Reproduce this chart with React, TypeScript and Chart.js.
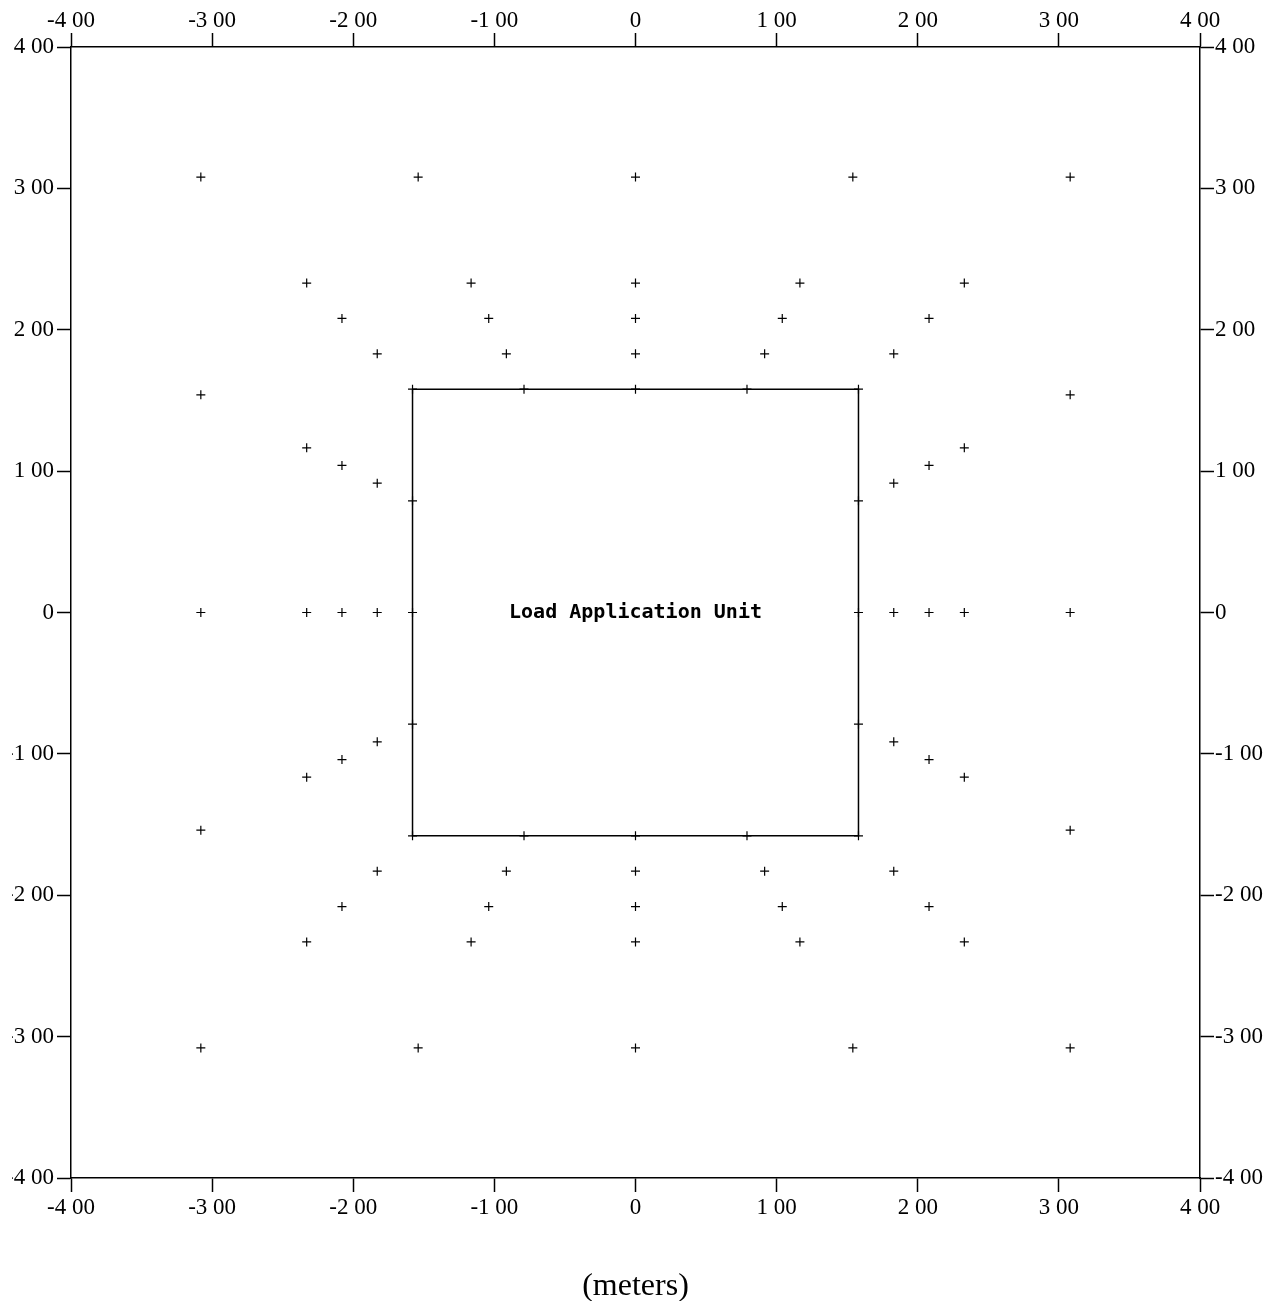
import React, { useEffect, useRef } from "react";
import { Chart, registerables } from "chart.js";

Chart.register(...registerables);

// Axis ticks and labels
const xTickValues = [-4, -3, -2, -1, 0, 1, 2, 3, 4];
const xTickLabels = ["-4 00", "-3 00", "-2 00", "-1 00", "0", "1 00", "2 00", "3 00", "4 00"];
const yTickValues = [-4, -3, -2, -1, 0, 1, 2, 3, 4];
const yTickLabels = ["-4 00", "-3 00", "-2 00", "-1 00", "0", "1 00", "2 00", "3 00", "4 00"];
const axisTitle = "(meters)";
const unitLabel = "Load Application Unit";

// Measurement points (meters)
const pointsX = [
  // ring 3.08
  -3.08, -1.54, 0, 1.54, 3.08, -3.08, 3.08, -3.08, 3.08, -3.08, 3.08, -3.08, -1.54, 0, 1.54, 3.08,
  // ring 2.33
  -2.33, -1.165, 0, 1.165, 2.33, -2.33, 2.33, -2.33, 2.33, -2.33, 2.33, -2.33, -1.165, 0, 1.165, 2.33,
  // ring 2.08
  -2.08, -1.04, 0, 1.04, 2.08, -2.08, 2.08, -2.08, 2.08, -2.08, 2.08, -2.08, -1.04, 0, 1.04, 2.08,
  // ring 1.83
  -1.83, -0.915, 0, 0.915, 1.83, -1.83, 1.83, -1.83, 1.83, -1.83, 1.83, -1.83, -0.915, 0, 0.915, 1.83,
  // ring 1.58
  -1.58, -0.79, 0, 0.79, 1.58, -1.58, 1.58, -1.58, 1.58, -1.58, 1.58, -1.58, -0.79, 0, 0.79, 1.58,
];
const pointsY = [
  3.08, 3.08, 3.08, 3.08, 3.08, 1.54, 1.54, 0, 0, -1.54, -1.54, -3.08, -3.08, -3.08, -3.08, -3.08,
  2.33, 2.33, 2.33, 2.33, 2.33, 1.165, 1.165, 0, 0, -1.165, -1.165, -2.33, -2.33, -2.33, -2.33, -2.33,
  2.08, 2.08, 2.08, 2.08, 2.08, 1.04, 1.04, 0, 0, -1.04, -1.04, -2.08, -2.08, -2.08, -2.08, -2.08,
  1.83, 1.83, 1.83, 1.83, 1.83, 0.915, 0.915, 0, 0, -0.915, -0.915, -1.83, -1.83, -1.83, -1.83, -1.83,
  1.58, 1.58, 1.58, 1.58, 1.58, 0.79, 0.79, 0, 0, -0.79, -0.79, -1.58, -1.58, -1.58, -1.58, -1.58,
];

// Load application unit outline
const unitX = [-1.58, 1.58, 1.58, -1.58, -1.58];
const unitY = [1.58, 1.58, -1.58, -1.58, 1.58];

const FONT = "'Liberation Serif', 'Times New Roman', serif";

const labelFor = (values: number[], labels: string[], v: number) => {
  const i = values.findIndex((t) => Math.abs(t - v) < 1e-6);
  return i >= 0 ? labels[i] : "";
};

export default function App() {
  const ref = useRef<HTMLCanvasElement | null>(null);

  useEffect(() => {
    if (!ref.current) return;

    const unitLabelPlugin = {
      id: "unitLabel",
      afterDatasetsDraw(chart: any) {
        const { ctx, scales } = chart;
        const cx = scales.x.getPixelForValue(0);
        const cy = scales.y.getPixelForValue(0);
        ctx.save();
        ctx.font = "bold 20px 'DejaVu Sans Mono', monospace";
        ctx.fillStyle = "#000";
        ctx.textAlign = "center";
        ctx.textBaseline = "middle";
        const w = ctx.measureText(unitLabel).width;
        const target = 253;
        ctx.translate(cx, cy);
        ctx.scale(target / w, 1);
        ctx.fillText(unitLabel, 0, 0);
        ctx.restore();
      },
    };

    const tickOpts = (values: number[], labels: string[], padding: number) => ({
      font: { family: FONT, size: 23 },
      color: "#000",
      padding,
      autoSkip: false,
      maxRotation: 0,
      callback: (v: any) => labelFor(values, labels, Number(v)),
    });

    const gridOpts = {
      drawOnChartArea: false,
      drawTicks: true,
      tickLength: 14,
      tickWidth: 1.5,
      tickColor: "#000",
      color: "#000",
    };
    const borderOpts = { display: true, color: "#000", width: 1.5 };

    const chart = new Chart(ref.current, {
      type: "scatter",
      data: {
        datasets: [
          {
            label: "unit",
            data: unitX.map((x, i) => ({ x, y: unitY[i] })),
            showLine: true,
            borderColor: "#000",
            borderWidth: 1.5,
            pointRadius: 0,
            fill: false,
          },
          {
            label: "points",
            data: pointsX.map((x, i) => ({ x, y: pointsY[i] })),
            pointStyle: "cross",
            pointRadius: 4.5,
            borderColor: "#000",
            backgroundColor: "#000",
            pointBorderWidth: 1.2,
            borderWidth: 1.2,
            showLine: false,
          },
        ],
      },
      options: {
        animation: false,
        responsive: true,
        maintainAspectRatio: false,
        layout: { padding: 0 },
        plugins: { legend: { display: false }, tooltip: { enabled: false } },
        scales: {
          x: {
            type: "linear",
            position: "bottom",
            min: -4,
            max: 4,
            afterBuildTicks: (s: any) => { s.ticks = xTickValues.map((v) => ({ value: v })); },
            afterFit: (s: any) => { s.height = 123; },
            ticks: tickOpts(xTickValues, xTickLabels, 2),
            grid: gridOpts,
            border: borderOpts,
            title: {
              display: true,
              text: axisTitle,
              font: { family: FONT, size: 32 },
              color: "#000",
              padding: { top: 47, bottom: -5 },
            },
          },
          x2: {
            type: "linear",
            position: "top",
            min: -4,
            max: 4,
            afterBuildTicks: (s: any) => { s.ticks = xTickValues.map((v) => ({ value: v })); },
            afterFit: (s: any) => { s.height = 47; },
            ticks: tickOpts(xTickValues, xTickLabels, -2),
            grid: gridOpts,
            border: borderOpts,
          },
          y: {
            type: "linear",
            position: "left",
            min: -4,
            max: 4,
            afterBuildTicks: (s: any) => { s.ticks = yTickValues.map((v) => ({ value: v })); },
            afterFit: (s: any) => { s.width = 71; },
            ticks: tickOpts(yTickValues, yTickLabels, 3),
            grid: gridOpts,
            border: borderOpts,
          },
          y2: {
            type: "linear",
            position: "right",
            min: -4,
            max: 4,
            afterBuildTicks: (s: any) => { s.ticks = yTickValues.map((v) => ({ value: v })); },
            afterFit: (s: any) => { s.width = 79; },
            ticks: tickOpts(yTickValues, yTickLabels, 1),
            grid: gridOpts,
            border: borderOpts,
          },
        },
      } as any,
      plugins: [unitLabelPlugin],
    });

    return () => chart.destroy();
  }, []);

  return (
    <div
      style={{
        position: "fixed",
        left: 0,
        top: 0,
        width: 1279,
        height: 1301,
        background: "#fff",
      }}
    >
      <canvas ref={ref} style={{ clipPath: "inset(0px 0px 0px 12px)" }} />
    </div>
  );
}
